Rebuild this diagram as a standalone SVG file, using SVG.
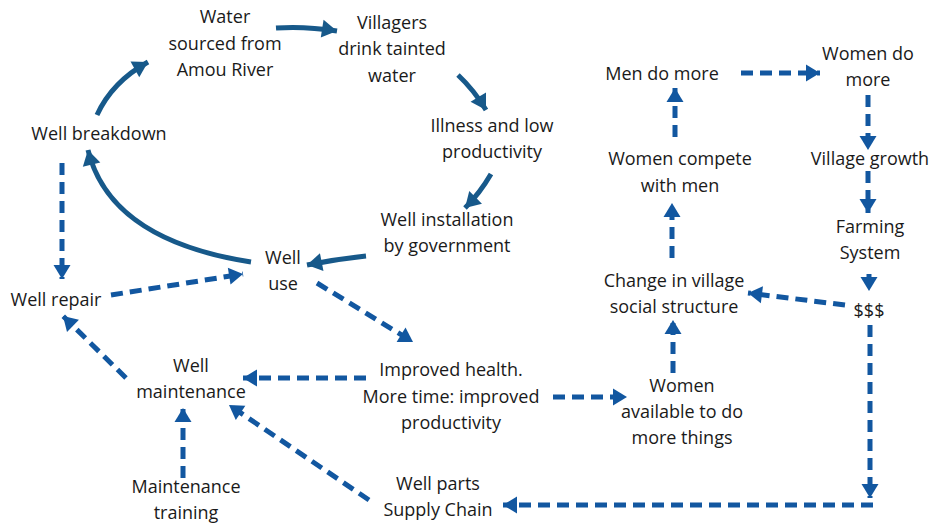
<svg xmlns="http://www.w3.org/2000/svg" width="934" height="525" viewBox="0 0 934 525">
  <style>
    .lbl { font-family: "Open Sans", "Liberation Sans", sans-serif; font-size: 18px; fill: #1a1a1a; text-anchor: middle; dominant-baseline: central; }
    .solid { fill: none; stroke: #17598a; stroke-width: 5; marker-end: url(#headSolid); }
    .dash { fill: none; stroke: #1257a0; stroke-width: 5; stroke-dasharray: 12 7; marker-end: url(#headDash); }
  </style>
  <defs>
    <marker id="headSolid" markerUnits="userSpaceOnUse" markerWidth="20" markerHeight="20" viewBox="0 0 20 20" refX="17" refY="10" orient="auto">
      <path d="M2,1 L17,10 L2,19 Z" fill="#17598a"/>
    </marker>
    <marker id="headDash" markerUnits="userSpaceOnUse" markerWidth="20" markerHeight="20" viewBox="0 0 20 20" refX="17" refY="10" orient="auto">
      <path d="M3,1.5 L17,10 L3,18.5 Z" fill="#1257a0"/>
    </marker>
  </defs>

  <g id="connectors">
    <!-- main water loop -->
    <path class="solid" d="M276,28 Q305,26 337,31"/>
    <path class="solid" d="M458,75 Q474,90 486,110"/>
    <path class="solid" d="M491,174 Q480,193 465,208"/>
    <path class="solid" d="M366,256 Q337,259 307,265"/>
    <path class="solid" d="M251,262 Q110,240 88,150"/>
    <path class="solid" d="M97,115 Q112,82 148,62"/>
    <!-- repair / maintenance -->
    <path class="dash" d="M62,163 L62,279"/>
    <path class="dash" d="M111,295 L243,274"/>
    <path class="dash" d="M126,378 L63,316"/>
    <path class="dash" d="M317,283 L413,342"/>
    <path class="dash" d="M366,378 L243,378"/>
    <path class="dash" d="M183,478 L183,408"/>
    <path class="dash" d="M369,500 L229,405"/>
    <!-- social change loop -->
    <path class="dash" d="M553,397 L627,397"/>
    <path class="dash" d="M673,373 L673,320"/>
    <path class="dash" d="M672,258 L672,203"/>
    <path class="dash" d="M675,137 L675,88"/>
    <path class="dash" d="M741,73 L820,73"/>
    <path class="dash" d="M868,95 L868,150"/>
    <path class="dash" d="M868,171 L868,213"/>
    <path class="dash" d="M869,274 L869,291"/>
    <path class="dash" d="M845,305 L748,293"/>
    <path class="dash" d="M870,325 L870,498"/>
    <path class="dash" d="M873,505 L503,505"/>
  </g>

  <g id="water-source"><text class="lbl" x="225" y="16">Water</text><text class="lbl" x="225" y="43">sourced from</text><text class="lbl" x="225" y="69">Amou River</text></g>
  <g id="villagers-drink"><text class="lbl" x="392" y="22">Villagers</text><text class="lbl" x="392" y="48">drink tainted</text><text class="lbl" x="392" y="75">water</text></g>
  <g id="illness"><text class="lbl" x="492" y="125">Illness and low</text><text class="lbl" x="492" y="151">productivity</text></g>
  <g id="well-installation"><text class="lbl" x="447" y="219">Well installation</text><text class="lbl" x="447" y="245">by government</text></g>
  <g id="well-use"><text class="lbl" x="283" y="257">Well</text><text class="lbl" x="283" y="283">use</text></g>
  <g id="well-breakdown"><text class="lbl" x="99" y="133">Well breakdown</text></g>
  <g id="well-repair"><text class="lbl" x="56" y="299">Well repair</text></g>
  <g id="well-maintenance"><text class="lbl" x="191" y="365">Well</text><text class="lbl" x="191" y="391">maintenance</text></g>
  <g id="maintenance-training"><text class="lbl" x="186" y="486">Maintenance</text><text class="lbl" x="186" y="512">training</text></g>
  <g id="improved-health"><text class="lbl" x="451" y="369">Improved health.</text><text class="lbl" x="451" y="396">More time: improved</text><text class="lbl" x="451" y="422">productivity</text></g>
  <g id="well-parts"><text class="lbl" x="438" y="483">Well parts</text><text class="lbl" x="438" y="509">Supply Chain</text></g>
  <g id="women-available"><text class="lbl" x="682" y="385">Women</text><text class="lbl" x="682" y="411">available to do</text><text class="lbl" x="682" y="437">more things</text></g>
  <g id="social-structure"><text class="lbl" x="674" y="280">Change in village</text><text class="lbl" x="674" y="306">social structure</text></g>
  <g id="women-compete"><text class="lbl" x="680" y="158">Women compete</text><text class="lbl" x="680" y="185">with men</text></g>
  <g id="men-do-more"><text class="lbl" x="662" y="73">Men do more</text></g>
  <g id="women-do-more"><text class="lbl" x="868" y="53">Women do</text><text class="lbl" x="868" y="79">more</text></g>
  <g id="village-growth"><text class="lbl" x="870" y="158">Village growth</text></g>
  <g id="farming-system"><text class="lbl" x="870" y="226">Farming</text><text class="lbl" x="870" y="252">System</text></g>
  <g id="money"><text class="lbl" x="869" y="310">$$$</text></g>
</svg>
